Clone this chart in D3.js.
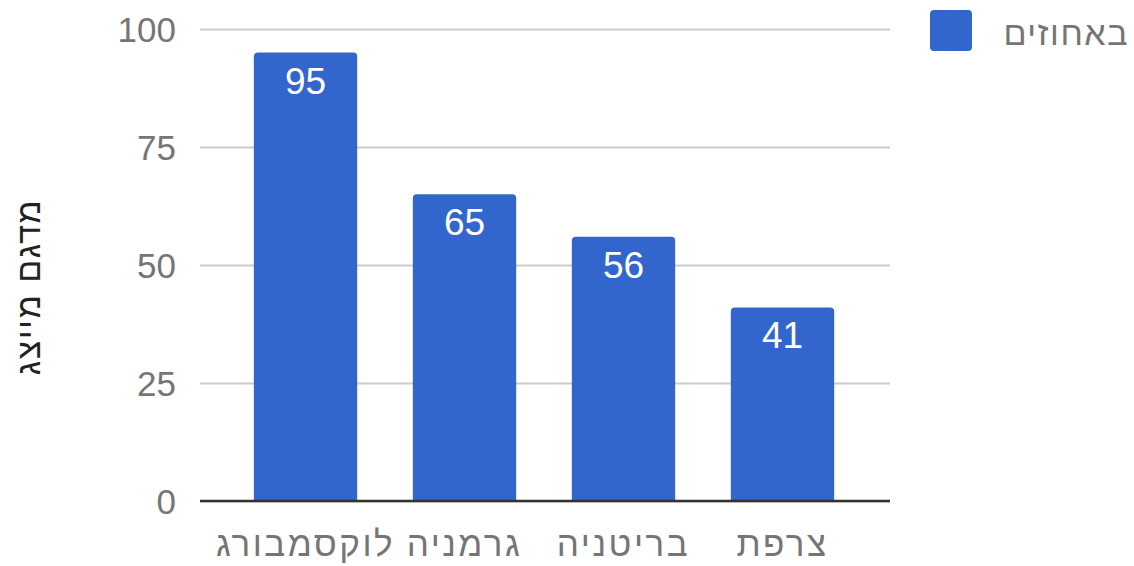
<!DOCTYPE html>
<html>
<head>
<meta charset="utf-8">
<script src="https://cdn.jsdelivr.net/npm/d3@7"></script>
<style>
  html, body { margin: 0; padding: 0; background: #fff; }
  svg { display: block; font-family: "Liberation Sans", Arial, sans-serif; }
</style>
</head>
<body>
<svg id="chart" width="1134" height="566"></svg>
<script>
// Share of each country in the sample (percent)
const countries = ["לוקסמבורג", "גרמניה", "בריטניה", "צרפת"];
const values = [95, 65, 56, 41];
const yTicks = [0, 25, 50, 75, 100];
const seriesName = "באחוזים";
const yTitle = "מדגם מייצג";

const svg = d3.select("#chart");
const plot = { left: 200, right: 890, top: 29, bottom: 501 };
const barColor = "#3366cc";

const x = d3.scaleBand()
  .domain(countries)
  .range([226, 862])
  .paddingInner(0.35)
  .paddingOuter(0.175);

const y = d3.scaleLinear()
  .domain([0, 100])
  .range([plot.bottom, plot.top]);

// Horizontal gridlines with value labels on the left
const yAxis = d3.axisLeft(y)
  .tickValues(yTicks)
  .tickSize(-(plot.right - plot.left))
  .tickPadding(24)
  .tickFormat(d3.format("d"));

const gy = svg.append("g")
  .attr("transform", `translate(${plot.left},0)`)
  .call(yAxis);
gy.select(".domain").remove();
gy.selectAll(".tick line")
  .attr("stroke", "#cccccc")
  .attr("stroke-width", 2);
gy.selectAll(".tick text")
  .attr("fill", "#757575")
  .attr("font-family", "'Liberation Sans', Arial, sans-serif")
  .attr("font-size", 35)
  .attr("dy", "0.36em");

// Bars with slightly rounded tops
const barPath = (d, i) => {
  const x0 = x(countries[i]);
  const w = x.bandwidth();
  const top = y(d);
  const bot = y(0);
  const r = 4;
  return `M${x0},${bot} V${top + r} Q${x0},${top} ${x0 + r},${top} H${x0 + w - r} Q${x0 + w},${top} ${x0 + w},${top + r} V${bot} Z`;
};

svg.append("g")
  .selectAll("path")
  .data(values)
  .join("path")
  .attr("d", barPath)
  .attr("fill", barColor);

// Value labels inside the bar tops
svg.append("g")
  .selectAll("text")
  .data(values)
  .join("text")
  .attr("x", (d, i) => x(countries[i]) + x.bandwidth() / 2)
  .attr("y", d => y(d) + 41)
  .attr("text-anchor", "middle")
  .attr("fill", "#ffffff")
  .attr("font-size", 37)
  .text(d => d);

// Baseline
svg.append("line")
  .attr("x1", plot.left)
  .attr("x2", plot.right)
  .attr("y1", y(0))
  .attr("y2", y(0))
  .attr("stroke", "#333333")
  .attr("stroke-width", 2.5);

// Category labels
const xAxis = d3.axisBottom(x).tickSize(0).tickPadding(0);
const gx = svg.append("g")
  .attr("transform", `translate(0,${plot.bottom})`)
  .call(xAxis);
gx.select(".domain").remove();
gx.selectAll(".tick text")
  .attr("font-family", "'Liberation Sans', Arial, sans-serif")
  .attr("fill", "#757575")
  .attr("font-size", 35)
  .attr("letter-spacing", 2.5)
  .attr("y", 55)
  .attr("dy", 0);

// Y axis title
svg.append("text")
  .attr("transform", `translate(40,287) rotate(-90)`)
  .attr("text-anchor", "middle")
  .attr("fill", "#222222")
  .attr("font-size", 34)
  .attr("letter-spacing", 1.5)
  .text(yTitle);

// Legend
const legend = svg.append("g");
legend.append("rect")
  .attr("x", 930)
  .attr("y", 10)
  .attr("width", 42)
  .attr("height", 41)
  .attr("rx", 4)
  .attr("fill", barColor);
legend.append("text")
  .attr("x", 1129)
  .attr("y", 45)
  .attr("text-anchor", "end")
  .attr("fill", "#757575")
  .attr("font-size", 34)
  .attr("letter-spacing", 1.5)
  .text(seriesName);
</script>
</body>
</html>
